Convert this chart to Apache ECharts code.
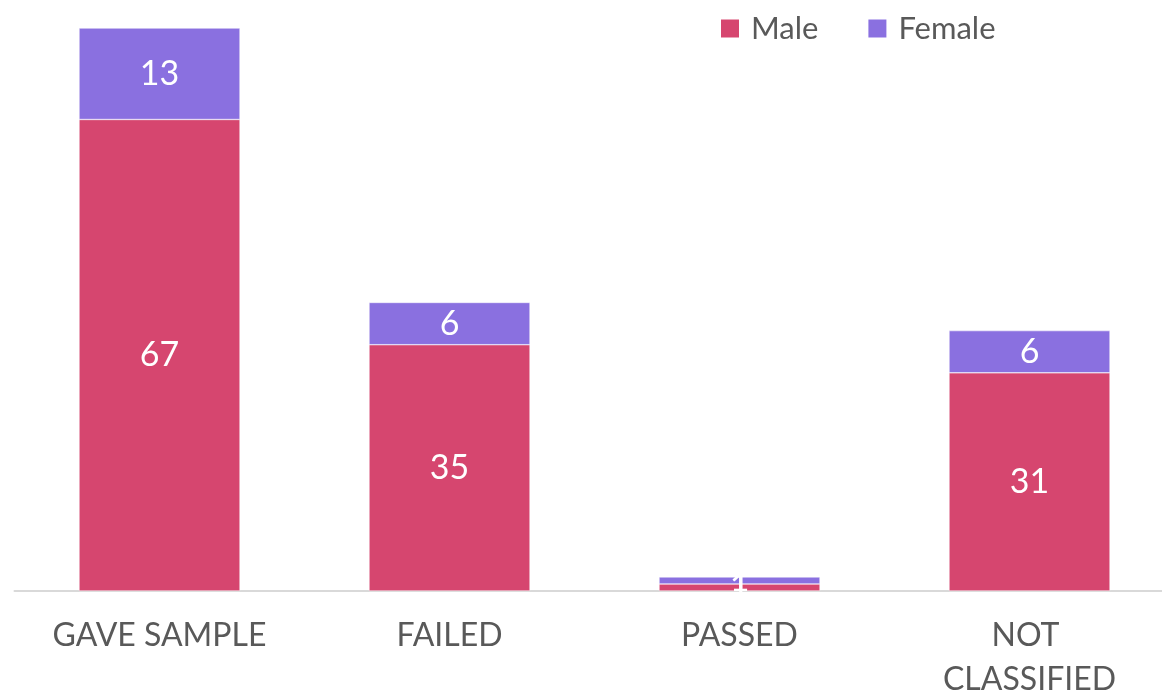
<!DOCTYPE html>
<html><head><meta charset="utf-8">
<script src="https://cdn.jsdelivr.net/npm/echarts@6/dist/echarts.min.js"></script>
<style>html,body{margin:0;padding:0;background:#fff}#c{width:1162px;height:694px}</style>
</head><body><div id="c"></div>
<script>
const categories = ['GAVE SAMPLE', 'FAILED', 'PASSED', 'NOT CLASSIFIED'];
const maleValues = [67, 35, 1, 31];
const femaleValues = [13, 6, 1, 6];
const seriesNames = ['Male', 'Female'];

const FONT = 'Lato, "Open Sans", sans-serif';
const chart = echarts.init(document.getElementById('c'));
chart.setOption({
  animation: false,
  backgroundColor: '#ffffff',
  legend: {
    data: seriesNames,
    left: 714, top: 8,
    itemWidth: 20, itemHeight: 20, itemGap: 48,
    icon: 'rect',
    textStyle: { fontFamily: FONT, fontSize: 31, color: '#595959', padding: [0, 0, 0, 6] }
  },
  grid: { left: 14.5, width: 1160, top: 28, bottom: 103, containLabel: false, outerBoundsMode: 'none' },
  xAxis: {
    type: 'category', data: categories,
    axisLine: { lineStyle: { color: '#d9d9d9', width: 2 } },
    axisTick: { show: false },
    axisLabel: {
      fontFamily: FONT, fontSize: 32, color: '#595959', margin: 23, lineHeight: 44,
      interval: 0, width: 232, overflow: 'break'
    }
  },
  yAxis: { type: 'value', min: 0, max: 80, show: false, splitLine: { show: false } },
  series: [
    {
      name: seriesNames[0], type: 'bar', stack: 'total', data: maleValues, barWidth: 161,
      itemStyle: { color: '#d6466f', borderColor: '#ffffff', borderWidth: 0.5 },
      label: { show: true, position: 'inside', color: '#ffffff', fontFamily: FONT, fontSize: 34 }
    },
    {
      name: seriesNames[1], type: 'bar', stack: 'total', data: femaleValues, barWidth: 161,
      itemStyle: { color: '#8a70e0', borderColor: '#ffffff', borderWidth: 0.5 },
      label: { show: true, position: 'inside', color: '#ffffff', fontFamily: FONT, fontSize: 34 }
    }
  ]
});
</script></body></html>
